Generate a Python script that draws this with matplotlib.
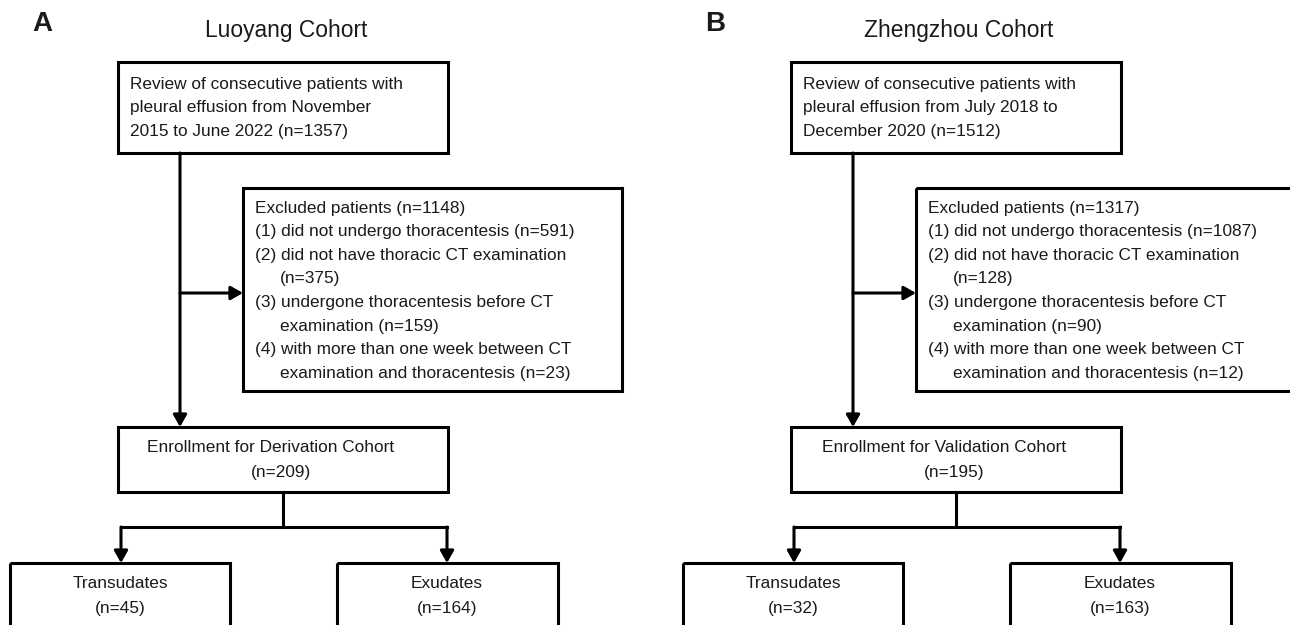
import matplotlib
matplotlib.use("Agg")
import matplotlib.pyplot as plt
from matplotlib.patches import Rectangle

plt.rcParams['font.family'] = ['Liberation Sans', 'DejaVu Sans']

# chart content
panel_letters = ["A", "B"]
cohorts = ["Luoyang Cohort", "Zhengzhou Cohort"]
review_lines = [
    ["Review of consecutive patients with",
     "pleural effusion from November",
     "2015 to June 2022 (n=1357)"],
    ["Review of consecutive patients with",
     "pleural effusion from July 2018 to",
     "December 2020 (n=1512)"],
]
excluded_total = [1148, 1317]
excluded_counts = [[591, 375, 159, 23], [1087, 128, 90, 12]]
enroll_names = ["Derivation", "Validation"]
enrolled = [209, 195]
transudates = [45, 32]
exudates = [164, 163]

W, H = 1290, 625
fig = plt.figure(figsize=(W / 100, H / 100), dpi=100)
ax = fig.add_axes([0, 0, 1, 1])
ax.set_xlim(0, W)
ax.set_ylim(H, 0)
ax.axis('off')

LW = 2.2
FS = 12.4
TC = '#1a1a1a'


def box(x0, y0, x1, y1):
    ax.add_patch(Rectangle((x0, y0), x1 - x0, y1 - y0, fill=False,
                           edgecolor='black', lw=LW, joinstyle='miter', zorder=3))


def arrow(x0, y0, x1, y1):
    ax.annotate("", xy=(x1, y1), xytext=(x0, y0),
                arrowprops=dict(arrowstyle='-|>,head_length=0.6,head_width=0.34',
                                mutation_scale=12, lw=LW, color='black',
                                shrinkA=0, shrinkB=0), zorder=4)


def line(xs, ys):
    ax.plot(xs, ys, color='black', lw=LW, solid_capstyle='projecting', zorder=4)


for i in range(2):
    dx = 673 * i
    ax.text(42 + dx, 24, panel_letters[i], fontsize=20, fontweight='bold',
            ha='center', va='center', color=TC)
    ax.text(286 + dx, 31, cohorts[i], fontsize=16.4, ha='center', va='center', color=TC)

    # review box
    box(118 + dx, 62, 448 + dx, 153)
    for k, txt in enumerate(review_lines[i]):
        ax.text(130 + dx, 84 + 23.8 * k, txt, fontsize=FS, ha='left', va='center', color=TC)

    # excluded box
    c = excluded_counts[i]
    exc_lines = [
        ("Excluded patients (n={})".format(excluded_total[i]), 0),
        ("(1) did not undergo thoracentesis (n={})".format(c[0]), 0),
        ("(2) did not have thoracic CT examination", 0),
        ("(n={})".format(c[1]), 1),
        ("(3) undergone thoracentesis before CT", 0),
        ("examination (n={})".format(c[2]), 1),
        ("(4) with more than one week between CT", 0),
        ("examination and thoracentesis (n={})".format(c[3]), 1),
    ]
    box(243 + dx, 188, 622 + dx, 391)
    for k, (txt, ind) in enumerate(exc_lines):
        ax.text(255 + 25 * ind + dx, 208 + 23.6 * k, txt, fontsize=FS,
                ha='left', va='center', color=TC)

    # main flow
    arrow(180 + dx, 153, 180 + dx, 427)
    arrow(180 + dx, 293, 243 + dx, 293)

    box(118 + dx, 427, 448 + dx, 492)
    ax.text(271 + dx, 448, "Enrollment for {} Cohort".format(enroll_names[i]),
            fontsize=FS, ha='center', va='center', color=TC)
    ax.text(281 + dx, 473, "(n={})".format(enrolled[i]),
            fontsize=FS, ha='center', va='center', color=TC)

    line([283 + dx, 283 + dx], [492, 527])
    line([121 + dx, 447 + dx], [527, 527])
    arrow(121 + dx, 527, 121 + dx, 563)
    arrow(447 + dx, 527, 447 + dx, 563)

    box(10 + dx, 563, 230 + dx, 640)
    ax.text(120 + dx, 584, "Transudates", fontsize=FS, ha='center', va='center', color=TC)
    ax.text(120 + dx, 608, "(n={})".format(transudates[i]), fontsize=FS,
            ha='center', va='center', color=TC)

    box(337 + dx, 563, 558 + dx, 640)
    ax.text(447 + dx, 584, "Exudates", fontsize=FS, ha='center', va='center', color=TC)
    ax.text(447 + dx, 608, "(n={})".format(exudates[i]), fontsize=FS,
            ha='center', va='center', color=TC)

fig.savefig("out.png", dpi=100, facecolor='white')
